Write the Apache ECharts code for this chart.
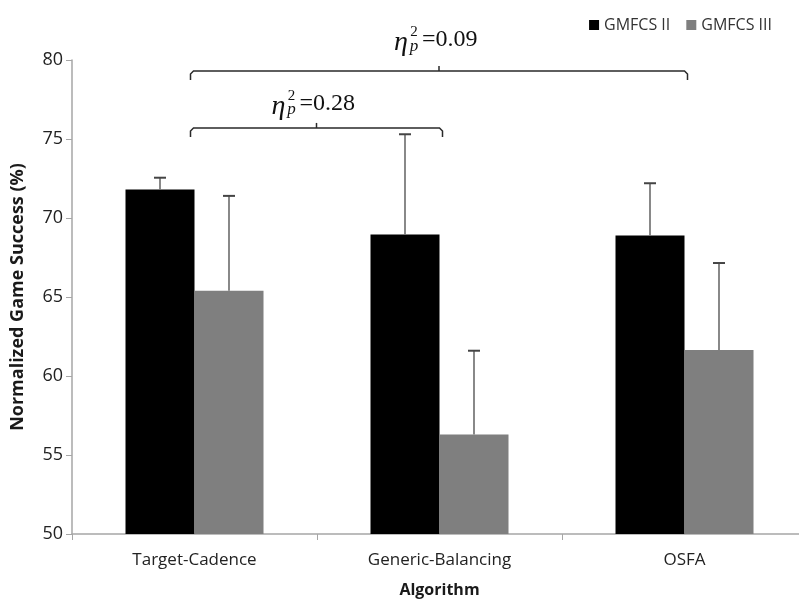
<!DOCTYPE html>
<html>
<head>
<meta charset="utf-8">
<script src="https://cdn.jsdelivr.net/npm/echarts@6/dist/echarts.min.js"></script>
<style>html,body{margin:0;padding:0;background:#fff}#c{width:799px;height:599px}</style>
</head>
<body>
<div id="c"></div>
<script>
// ---- data ----
var categories = ['Target-Cadence', 'Generic-Balancing', 'OSFA'];
var seriesNames = ['GMFCS II', 'GMFCS III'];
var gmfcs2 = [71.8, 68.95, 68.9];
var gmfcs3 = [65.4, 56.3, 61.65];
var gmfcs2Err = [0.75, 6.35, 3.3];
var gmfcs3Err = [6.0, 5.3, 5.5];
var yTicks = [50, 55, 60, 65, 70, 75, 80];
var bracketFrom = [0, 0];
var bracketTo = [2, 1];
var bracketY = [79.3, 75.7];
var bracketEta = ['0.09', '0.28'];

// ---- style constants ----
var BAR_W = 69;
var labelGap = [31, 24];
var FONT = '"Open Sans", sans-serif';

var chart = echarts.init(document.getElementById('c'), null, {renderer: 'canvas'});

function errData(vals, errs) {
  return vals.map(function (v, i) { return [i, v, errs[i]]; });
}

function renderErr(offsetSign) {
  return function (params, api) {
    var i = api.value(0), v = api.value(1), e = api.value(2);
    var p0 = api.coord([i, v]);
    var p1 = api.coord([i, v + e]);
    var x = p0[0] + offsetSign * BAR_W / 2;
    var lineStyle = {stroke: '#6b6b6b', lineWidth: 1.6};
    return {
      type: 'group',
      children: [
        {type: 'line', shape: {x1: x, y1: p0[1], x2: x, y2: p1[1]}, style: lineStyle},
        {type: 'line', shape: {x1: x - 6, y1: p1[1], x2: x + 6, y2: p1[1]}, style: {stroke: '#444', lineWidth: 2}}
      ]
    };
  };
}

var bracketData = bracketFrom.map(function (f, i) { return [f, bracketTo[i], bracketY[i], i]; });

function renderBracket(params, api) {
  var f = api.value(0), t = api.value(1), yv = api.value(2), k = api.value(3);
  var a = api.coord([f, yv]);
  var b = api.coord([t, yv]);
  var x0 = a[0] - 4, x1 = b[0] + 3, y = a[1];
  var xm = (x0 + x1) / 2;
  var st = {stroke: '#2a2a2a', lineWidth: 1.5, fill: null};
  var cy = y - labelGap[k];
  return {
    type: 'group',
    children: [
      {type: 'polyline', shape: {points: [[x0, y + 9], [x0, y + 3], [x0 + 3, y], [x1 - 3, y], [x1, y + 3], [x1, y + 9]]}, style: st},
      {type: 'line', shape: {x1: xm, y1: y, x2: xm, y2: y - 5}, style: st},
      {type: 'text', style: {text: 'η', x: xm - 38, y: cy + 3, fill: '#111', font: 'italic 28px "Liberation Serif", serif', textAlign: 'center', textVerticalAlign: 'middle'}},
      {type: 'text', style: {text: '2', x: xm - 25, y: cy - 8, fill: '#111', font: '15px "Liberation Serif", serif', textAlign: 'center', textVerticalAlign: 'middle'}},
      {type: 'text', style: {text: 'p', x: xm - 25, y: cy + 6, fill: '#111', font: 'italic 17px "Liberation Serif", serif', textAlign: 'center', textVerticalAlign: 'middle'}},
      {type: 'text', style: {text: '=' + bracketEta[k], x: xm - 17, y: cy, fill: '#111', font: '24px "Liberation Serif", serif', textAlign: 'left', textVerticalAlign: 'middle'}}
    ]
  };
}

var option = {
  animation: false,
  backgroundColor: '#fff',
  legend: {
    data: seriesNames,
    right: 22,
    top: 12,
    icon: 'rect',
    itemWidth: 10,
    itemHeight: 10,
    itemGap: 16,
    itemStyle: {borderWidth: 0},
    textStyle: {fontFamily: FONT, fontSize: 16, color: '#333'}
  },
  grid: {left: 72, top: 60, width: 735, height: 474, containLabel: false, outerBoundsMode: 'none'},
  xAxis: {
    type: 'category',
    data: categories,
    name: 'Algorithm',
    nameLocation: 'middle',
    nameGap: 48,
    nameTextStyle: {fontFamily: FONT, fontSize: 16, fontWeight: 'bold', color: '#1a1a1a'},
    axisLine: {lineStyle: {color: '#a6a6a6', width: 1.5}},
    axisTick: {show: true, length: 6, lineStyle: {color: '#a6a6a6'}},
    axisLabel: {fontFamily: FONT, fontSize: 17, color: '#222', margin: 18}
  },
  yAxis: {
    type: 'value',
    min: yTicks[0],
    max: yTicks[yTicks.length - 1],
    interval: 5,
    name: 'Normalized Game Success (%)',
    nameLocation: 'middle',
    nameGap: 45,
    nameTextStyle: {fontFamily: FONT, fontSize: 18, fontWeight: 'bold', color: '#1a1a1a'},
    axisLine: {show: true, lineStyle: {color: '#a6a6a6', width: 1.5}},
    axisTick: {show: true, length: 6, lineStyle: {color: '#a6a6a6'}},
    axisLabel: {fontFamily: FONT, fontSize: 18, color: '#222', margin: 9},
    splitLine: {show: false}
  },
  series: [
    {name: seriesNames[0], type: 'bar', data: gmfcs2, barWidth: BAR_W, barGap: '0%', itemStyle: {color: '#000'}},
    {name: seriesNames[1], type: 'bar', data: gmfcs3, barWidth: BAR_W, barGap: '0%', itemStyle: {color: '#7f7f7f'}},
    {type: 'custom', renderItem: renderErr(-1), data: errData(gmfcs2, gmfcs2Err), z: 5, silent: true},
    {type: 'custom', renderItem: renderErr(1), data: errData(gmfcs3, gmfcs3Err), z: 5, silent: true},
    {type: 'custom', renderItem: renderBracket, data: bracketData, z: 6, silent: true, clip: false}
  ]
};
chart.setOption(option);
</script>
</body>
</html>
